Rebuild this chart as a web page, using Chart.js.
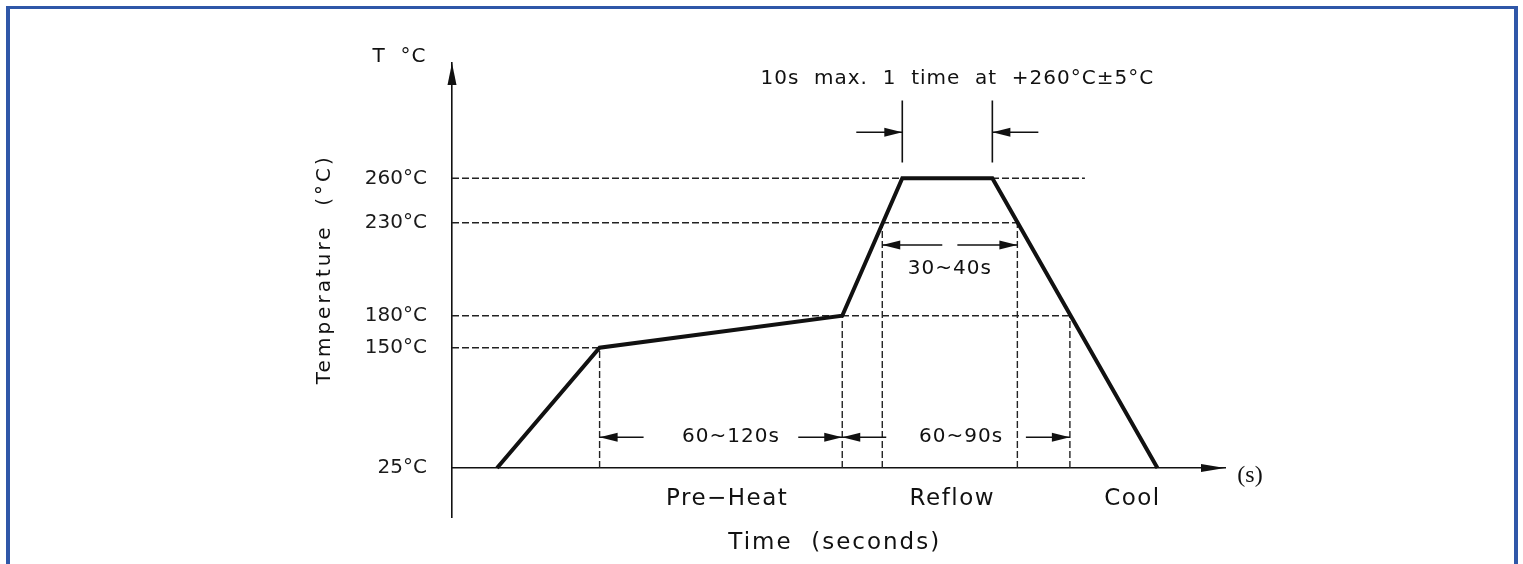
<!DOCTYPE html>
<html>
<head>
<meta charset="utf-8">
<script src="https://cdn.jsdelivr.net/npm/chart.js@4.4.1/dist/chart.umd.min.js"></script>
<style>
  html, body { margin: 0; padding: 0; background: #fff; }
  #wrap { position: relative; width: 1523px; height: 564px; overflow: hidden; }
  #frame { position: absolute; left: 6px; top: 6px; width: 1512px; height: 620px;
           border-style: solid; border-color: #2f57a8; border-width: 3px 4px;
           box-sizing: border-box; pointer-events: none; }
  canvas { position: absolute; left: 0; top: 0; }
</style>
</head>
<body>
<div id="wrap">
  <canvas id="chart" width="1523" height="564"></canvas>
  <div id="frame"></div>
</div>
<script>
// reflow profile: time (s) and temperature (°C)
const times = [18, 59, 156, 180, 216, 282];
const temps = [25, 150, 180, 260, 260, 25];

// y axis ticks
const tempTicks = [25, 150, 180, 230, 260];
const tickLabels = ["25°C", "150°C", "180°C", "230°C", "260°C"];

// dashed guide lines
const hGuideTemps = [260, 230, 180, 150];
const hGuideEnds = [253, 226, 247, 59];
const vGuideTimes = [59, 156, 172, 226, 247];
const vGuideTops = [150, 180, 230, 230, 180];

// time spans marked with arrows
const spanLabels = ["60~120s", "60~90s", "30~40s", "10s  max.  1  time  at  +260°C±5°C"];
const spanStarts = [59, 156, 172, 180];
const spanEnds = [156, 247, 226, 216];

// phase names under the time axis
const phaseLabels = ["Pre\u2212Heat", "Reflow", "Cool"];
const phaseCenters = [110, 200, 272];

const ink = "#111";
const font = "DejaVu Sans";

// the drawing is schematic: the temperature axis is not linear,
// so map temperatures piecewise onto the axis height
const knotT = [-15, 25, 150, 180, 230, 260, 340];
const knotD = [0, 0.1079, 0.3729, 0.4434, 0.6482, 0.746, 1];

function interp(v, xs, ys) {
  let i = 0;
  while (i < xs.length - 2 && v > xs[i + 1]) i++;
  const f = (v - xs[i]) / (xs[i + 1] - xs[i]);
  return ys[i] + f * (ys[i + 1] - ys[i]);
}

class ProfileScale extends Chart.LinearScale {
  getPixelForValue(v) { return this.getPixelForDecimal(interp(v, knotT, knotD)); }
  getValueForPixel(p) { return interp(this.getDecimalForPixel(p), knotD, knotT); }
}
ProfileScale.id = "profile";
ProfileScale.defaults = Chart.LinearScale.defaults;
Chart.register(ProfileScale);

function arrowHead(ctx, x, y, dx, dy, len, half) {
  const bx = x - dx * len, by = y - dy * len;
  ctx.beginPath();
  ctx.moveTo(x, y);
  ctx.lineTo(bx - dy * half, by + dx * half);
  ctx.lineTo(bx + dy * half, by - dx * half);
  ctx.closePath();
  ctx.fill();
}

function arrow(ctx, x0, y0, x1, y1) {
  ctx.beginPath();
  ctx.moveTo(x0, y0);
  ctx.lineTo(x1, y1);
  ctx.stroke();
  const d = Math.hypot(x1 - x0, y1 - y0);
  arrowHead(ctx, x1, y1, (x1 - x0) / d, (y1 - y0) / d, 18, 4.5);
}

// arrows, dimension marks and text around the plot
const notesPlugin = {
  id: "notes",
  afterDraw(chart) {
    const ctx = chart.ctx;
    const px = (t) => chart.scales.x.getPixelForValue(t);
    const py = (v) => chart.scales.y.getPixelForValue(v);
    ctx.save();
    ctx.fillStyle = ink;
    ctx.strokeStyle = ink;
    ctx.lineWidth = 1.6;

    // axis arrow heads
    arrowHead(ctx, px(0), py(340), 0, -1, 22, 4.5);
    arrowHead(ctx, px(309), py(25), 1, 0, 24, 4);

    ctx.font = "20px '" + font + "'";
    ctx.textAlign = "center";
    ctx.textBaseline = "middle";
    ctx.letterSpacing = "1px";

    const rows = [57, 57, 218, 292];
    const textRows = [57, 57, 205, 329];
    const textShift = [4, 2, 0, 4];
    spanLabels.forEach((label, i) => {
      const a = px(spanStarts[i]), b = px(spanEnds[i]);
      const r = py(rows[i]);
      if (i === 3) {
        ctx.beginPath();
        ctx.moveTo(a, py(271)); ctx.lineTo(a, py(314));
        ctx.moveTo(b, py(271)); ctx.lineTo(b, py(314));
        ctx.stroke();
        arrow(ctx, a - 46, r, a, r);
        arrow(ctx, b + 46, r, b, r);
      } else {
        const tail = i === 2 ? 60 : 44;
        arrow(ctx, a + tail, r, a, r);
        arrow(ctx, b - tail, r, b, r);
      }
      const mid = (spanStarts[i] + spanEnds[i]) / 2 + textShift[i];
      ctx.fillText(label, px(mid), py(textRows[i]));
    });

    ctx.fillText("T  \u00b0C", px(-21), py(344));

    ctx.save();
    ctx.translate(px(-51), py(205));
    ctx.rotate(-Math.PI / 2);
    ctx.letterSpacing = "3px";
    ctx.fillText("Temperature  (\u00b0C)", 0, 0);
    ctx.restore();

    // labels under the time axis are drawn a little larger
    ctx.font = "23px '" + font + "'";
    ctx.letterSpacing = "1.5px";
    phaseLabels.forEach((label, i) => {
      ctx.fillText(label, px(phaseCenters[i]), py(0));
    });
    ctx.letterSpacing = "2px";
    ctx.fillText("Time  (seconds)", px(153), py(-36));

    ctx.letterSpacing = "0px";
    ctx.font = "24px 'Liberation Serif'";
    ctx.fillText("(s)", px(319), py(19));
    ctx.restore();
  }
};

const dashed = {
  borderColor: "#222",
  borderWidth: 1.4,
  borderDash: [7, 3],
  pointRadius: 0,
  fill: false
};

const datasets = [
  {
    data: times.map((t, i) => ({ x: t, y: temps[i] })),
    borderColor: ink,
    borderWidth: 4,
    borderJoinStyle: "miter",
    pointRadius: 0,
    fill: false
  },
  ...hGuideTemps.map((v, i) => ({ ...dashed, data: [{ x: 0, y: v }, { x: hGuideEnds[i], y: v }] })),
  ...vGuideTimes.map((t, i) => ({ ...dashed, data: [{ x: t, y: 25 }, { x: t, y: vGuideTops[i] }] }))
];

new Chart(document.getElementById("chart"), {
  type: "line",
  data: { datasets },
  options: {
    responsive: false,
    animation: false,
    layout: { padding: { left: 0, top: 63, right: 298, bottom: 47 } },
    plugins: { legend: { display: false }, tooltip: { enabled: false } },
    scales: {
      x: {
        type: "linear",
        min: 0,
        max: 309,
        position: { y: 25 },
        grid: { display: false, drawTicks: false },
        ticks: { display: false },
        border: { color: ink, width: 1.6 }
      },
      y: {
        type: "profile",
        min: -15,
        max: 340,
        grid: { display: false, drawTicks: false },
        border: { color: ink, width: 1.6 },
        ticks: {
          padding: 25,
          color: "#1a1a1a",
          font: { family: font, size: 20 },
          callback: (v) => tickLabels[tempTicks.indexOf(v)]
        },
        afterBuildTicks: (s) => { s.ticks = tempTicks.map((v) => ({ value: v })); },
        afterFit: (s) => { s.width = 452; }
      }
    }
  },
  plugins: [notesPlugin]
});
</script>
</body>
</html>
